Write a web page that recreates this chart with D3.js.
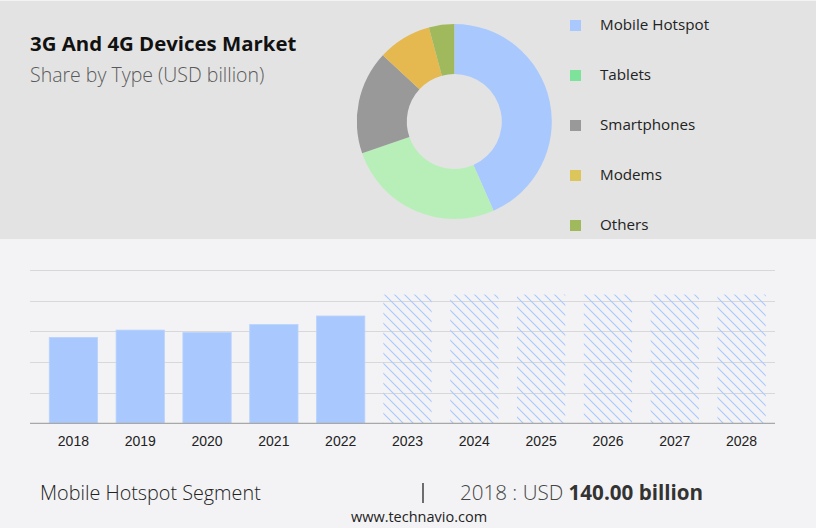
<!DOCTYPE html>
<html><head><meta charset="utf-8">
<script src="https://cdn.jsdelivr.net/npm/d3@7"></script>
<style>
html,body{margin:0;padding:0;background:#f3f3f5;}
svg{display:block;}
</style></head>
<body>
<svg id="chart" width="816" height="528"></svg>
<script>
// ---- data ----
const segments = ["Mobile Hotspot", "Tablets", "Smartphones", "Modems", "Others"];
const segmentShares = [43.4, 26.3, 17.2, 8.9, 4.2];
const years = ["2018","2019","2020","2021","2022","2023","2024","2025","2026","2027","2028"];
const historicValues = [140, 152, 148, 161, 175];
const forecastValues = [210, 210, 210, 210, 210, 210];
const yTicks = [0, 50, 100, 150, 200, 250];
const titleText = "3G And 4G Devices Market";
const subtitleText = "Share by Type (USD billion)";
const footerSegment = "Mobile Hotspot Segment";
const footerYear = "2018 : USD ";
const footerValue = "140.00 billion";
const siteText = "www.technavio.com";

// ---- styles ----
const donutColors = ["#a9c9fe", "#b8efb8", "#999999", "#e5b94f", "#a0b95c"];
const legendColors = ["#a9c9fe", "#7de39a", "#999999", "#dcc55a", "#a0b95c"];
const barColor = "#a9c9fe";

const svg = d3.select("#chart");

// backgrounds
svg.append("rect").attr("x",0).attr("y",0).attr("width",816).attr("height",528).attr("fill","#f3f3f5");
svg.append("rect").attr("x",0).attr("y",1).attr("width",816).attr("height",238).attr("fill","#e3e3e3");

// title
svg.append("text").attr("x",30).attr("y",50.5)
  .style("font-family","'Open Sans'").style("font-weight",700).style("font-size","20.4px")
  .attr("fill","#111").text(titleText);
svg.append("text").attr("x",30).attr("y",82)
  .style("font-family","'Open Sans'").style("font-weight",300).style("font-size","19.5px")
  .attr("fill","#5a5a5a").text(subtitleText);

// donut
const pie = d3.pie().sort(null).value(d => d)(segmentShares);
const arc = d3.arc().innerRadius(47.5).outerRadius(97.5);
const dg = svg.append("g").attr("transform","translate(454.3,121.5)");
dg.selectAll("path").data(pie).join("path")
  .attr("d", arc).attr("fill",(d,i)=>donutColors[i]);

// legend
const lg = svg.append("g");
const legendY = d3.scalePoint().domain(segments).range([25, 225]);
segments.forEach((s,i)=>{
  const yy = legendY(s);
  lg.append("rect").attr("x",570).attr("y",yy-5).attr("width",11).attr("height",11).attr("fill",legendColors[i]);
  lg.append("text").attr("x",600).attr("y",yy+4.8)
    .style("font-family","'Open Sans'").style("font-size","15.2px").attr("fill","#222").text(s);
});

// bar chart
const x = d3.scaleBand().domain(years).range([40, 775]).paddingInner(0.277).paddingOuter(0.1385);
const y = d3.scaleLinear().domain([0, 250]).range([423.3, 270]);

const defs = svg.append("defs");
const pat = defs.append("pattern").attr("id","hatch").attr("patternUnits","userSpaceOnUse")
  .attr("width",10).attr("height",10);
pat.append("path").attr("d","M-1,-1 L11,11 M-1,9 L1,11 M9,-1 L11,1")
  .attr("stroke","#a9c9fe").attr("stroke-width",1.1).attr("fill","none");

// gridlines
svg.append("g").selectAll("line").data(yTicks.filter(t=>t>0)).join("line")
  .attr("x1",30).attr("x2",775).attr("y1",d=>Math.round(y(d))+0.5).attr("y2",d=>Math.round(y(d))+0.5)
  .attr("stroke","#d8d8da").attr("stroke-width",1.2);

// historic bars
svg.append("g").selectAll("rect").data(historicValues).join("rect")
  .attr("x",(d,i)=>x(years[i])).attr("width",x.bandwidth())
  .attr("y",d=>y(d)).attr("height",d=>y(0)-y(d))
  .attr("fill",barColor).attr("stroke","#b9d3fd").attr("stroke-width",0.8);

// forecast bars
svg.append("g").selectAll("rect").data(forecastValues).join("rect")
  .attr("x",(d,i)=>x(years[historicValues.length+i])).attr("width",x.bandwidth())
  .attr("y",d=>y(d)).attr("height",d=>y(0)-y(d))
  .attr("fill","url(#hatch)");

// baseline
svg.append("line").attr("x1",30).attr("x2",775).attr("y1",y(0)).attr("y2",y(0))
  .attr("stroke","#a8a8a8").attr("stroke-width",1.3);

// x axis labels
const xAxis = d3.axisBottom(x).tickSize(0).tickPadding(0);
const ax = svg.append("g").attr("transform",`translate(0,${y(0)})`).call(xAxis);
ax.select(".domain").remove();
ax.selectAll("text").attr("y",12.5).attr("dy","0.71em")
  .style("font-family","'Liberation Sans', Arial, sans-serif").style("font-size","14px").attr("fill","#222");

// footer
svg.append("text").attr("x",40).attr("y",500)
  .style("font-family","'Open Sans'").style("font-weight",300).style("font-size","19.8px")
  .attr("fill","#222").text(footerSegment);
svg.append("line").attr("x1",423).attr("x2",423).attr("y1",483).attr("y2",503)
  .attr("stroke","#333").attr("stroke-width",1.4);
const ft = svg.append("text").attr("x",460).attr("y",500)
  .style("font-family","'Open Sans'").style("font-size","20.6px").attr("fill","#444");
ft.append("tspan").style("font-weight",300).text(footerYear);
ft.append("tspan").style("font-weight",700).attr("fill","#333").text(footerValue);
svg.append("text").attr("x",419).attr("y",522).attr("text-anchor","middle")
  .style("font-family","'Open Sans'").style("font-size","14.5px").attr("fill","#222").text(siteText);
</script>
</body></html>
